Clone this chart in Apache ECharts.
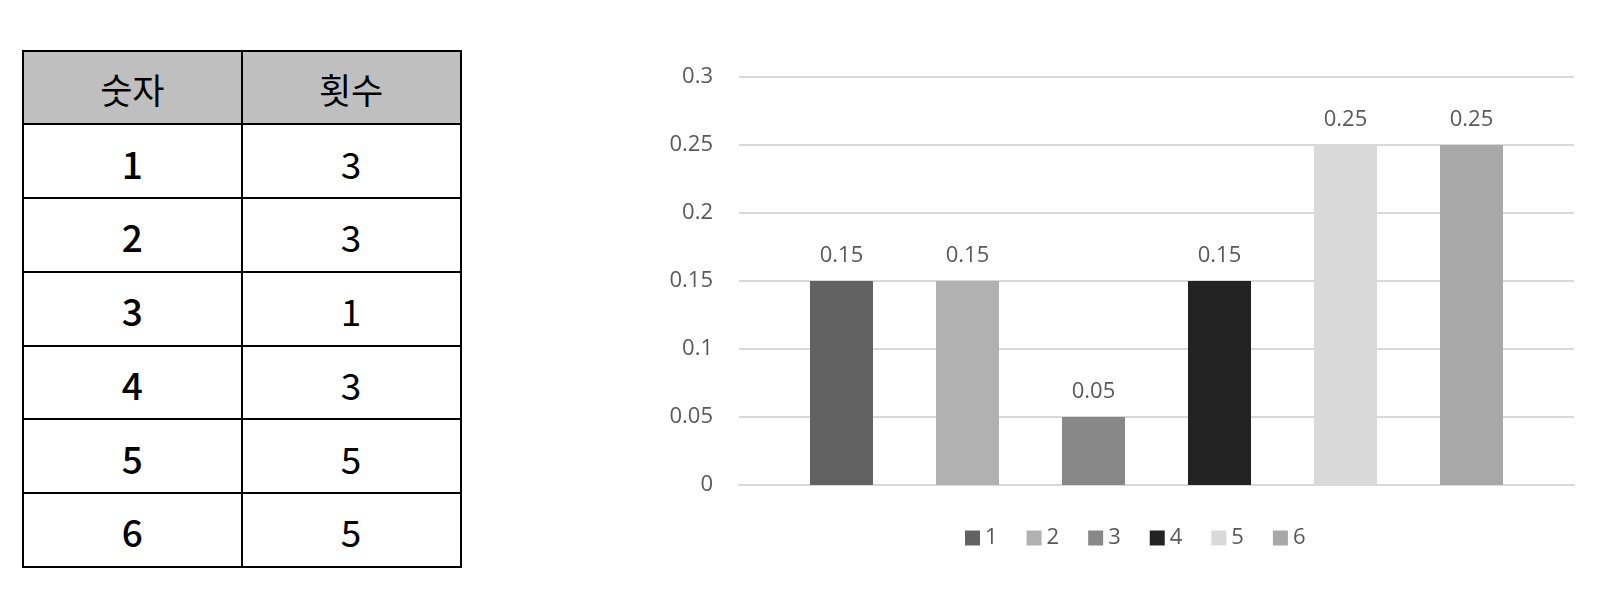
<!DOCTYPE html>
<html>
<head>
<meta charset="utf-8">
<script src="https://cdn.jsdelivr.net/npm/echarts@6/dist/echarts.min.js"></script>
<style>
  html, body { margin: 0; padding: 0; background: #fff; }
  #chart { position: absolute; left: 0; top: 0; width: 1615px; height: 607px; }
  #tbl { position: absolute; left: 22px; top: 49.7px; width: 439.5px; height: 518px; box-sizing: border-box;
    padding: 2px; background: #000; display: grid; grid-template-columns: 1fr 1fr;
    grid-template-rows: repeat(7, 1fr); gap: 2px; }
  #tbl div { background: #fff; display: flex; align-items: center; justify-content: center;
    font-family: "Noto Sans CJK KR", "Noto Sans", sans-serif; color: #000; line-height: 1; }
  #tbl div.h { background: #bfbfbf; font-size: 35px; padding-top: 2px; }
  #tbl div.v { font-size: 37px; padding-top: 4px; }
  #tbl div.k { font-size: 37px; padding-top: 4px; font-weight: 500; }
</style>
</head>
<body>
<div id="chart"></div>
<div id="tbl"></div>
<script>
// ---- data ----
const tableHeaders = ['숫자', '횟수'];
const categories = ['1', '2', '3', '4', '5', '6'];
const counts = [3, 3, 1, 3, 5, 5];
const ratios = [0.15, 0.15, 0.05, 0.15, 0.25, 0.25];
const yMin = 0, yMax = 0.3, yInterval = 0.05;

// ---- styles ----
const barColors = ['#626262', '#b1b1b1', '#888888', '#232323', '#d9d9d9', '#a8a8a8'];
const textColor = '#595959';
const gridColor = '#d9d9d9';
const fontFamily = '"Open Sans", "Noto Sans", sans-serif';

// ---- table ----
const tbl = document.getElementById('tbl');
let html = tableHeaders.map(h => '<div class="h">' + h + '</div>').join('');
categories.forEach((c, i) => {
  html += '<div class="k">' + c + '</div><div class="v">' + counts[i] + '</div>';
});
tbl.innerHTML = html;

// ---- chart ----
const chart = echarts.init(document.getElementById('chart'), null, { renderer: 'canvas' });
const series = categories.map((c, i) => ({
  name: c,
  type: 'bar',
  data: [ratios[i]],
  barWidth: 63,
  barGap: '100%',
  itemStyle: { color: barColors[i] },
  label: {
    show: true,
    position: 'top',
    distance: 14,
    color: textColor,
    fontSize: 22,
    fontFamily: fontFamily
  }
}));

chart.setOption({
  animation: false,
  backgroundColor: '#fff',
  grid: { left: 739, right: 41, top: 77, bottom: 122, containLabel: false },
  legend: {
    data: categories,
    left: 965,
    top: 527,
    padding: 0,
    itemWidth: 15,
    itemHeight: 15,
    itemGap: 29,
    icon: 'rect',
    textStyle: { color: textColor, fontSize: 22, fontFamily: fontFamily }
  },
  xAxis: {
    type: 'category',
    data: [''],
    axisLine: { show: true, lineStyle: { color: gridColor, width: 2 } },
    axisTick: { show: false },
    axisLabel: { show: false }
  },
  yAxis: {
    type: 'value',
    min: yMin,
    max: yMax,
    interval: yInterval,
    axisLine: { show: false },
    axisTick: { show: false },
    axisLabel: { color: textColor, fontSize: 22, fontFamily: fontFamily, margin: 26 },
    splitLine: { lineStyle: { color: gridColor, width: 2 } }
  },
  series: series
});
</script>
</body>
</html>
